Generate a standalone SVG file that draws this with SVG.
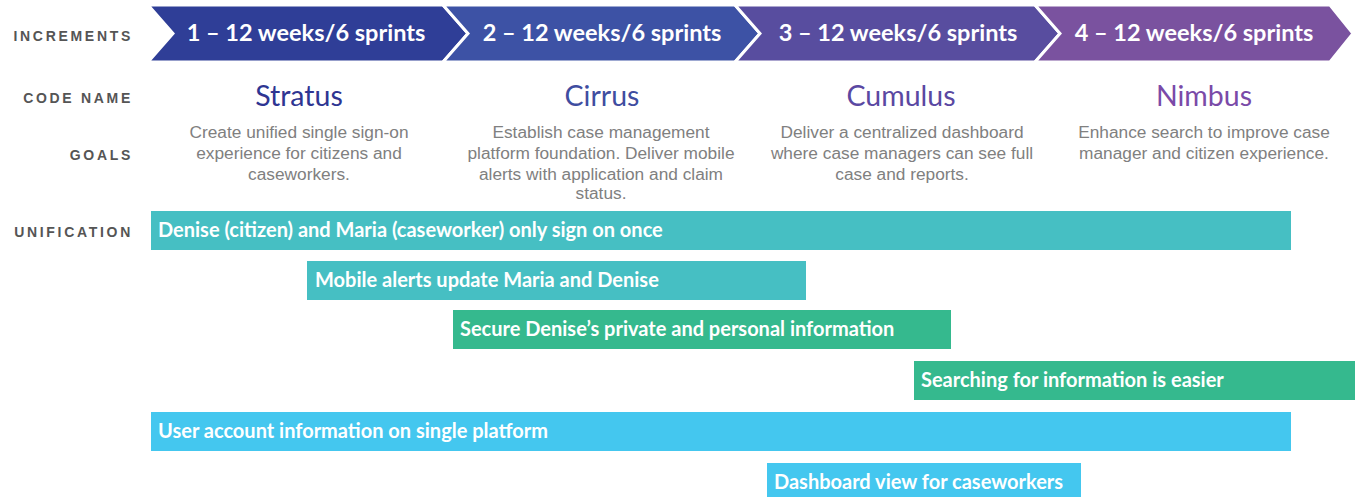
<svg xmlns="http://www.w3.org/2000/svg" width="1355" height="497" viewBox="0 0 1355 497">
<style>
.lbl{font-family:"Liberation Sans",Arial,sans-serif;font-weight:bold;font-size:14px;fill:#555;letter-spacing:2.7px;text-anchor:end}
.chev{stroke:#fff;stroke-width:3;stroke-linejoin:miter}
.ct{font-family:Lato,"Open Sans",sans-serif;font-weight:bold;font-size:23.5px;fill:#fff;text-anchor:middle}
.cn{font-family:Lato,"Open Sans",sans-serif;font-size:28.5px;text-anchor:middle}
.goal{font-family:"Liberation Sans",Arial,sans-serif;font-size:17.3px;fill:#808080;text-anchor:middle}
.bt{font-family:Lato,"Open Sans",sans-serif;font-weight:bold;font-size:20px;fill:#fff}
.teal{fill:#46bfc3}
.green{fill:#35b98e}
.sky{fill:#44c7ef}
</style>
<rect width="1355" height="497" fill="#fff"/>
<g id="row-labels">
<text class="lbl" x="133" y="41">INCREMENTS</text>
<text class="lbl" x="133" y="103">CODE NAME</text>
<text class="lbl" x="133" y="160">GOALS</text>
<text class="lbl" x="133" y="237">UNIFICATION</text>
</g>
<g id="increment-1">
<polygon class="chev" fill="#2f3e97" points="148,5 443,5 468,33.5 443,62 148,62 173,33.5"/>
<text class="ct" x="306" y="41">1 – 12 weeks/6 sprints</text>
</g>
<g id="increment-2">
<polygon class="chev" fill="#3d52a5" points="443,5 735,5 760,33.5 735,62 443,62 468,33.5"/>
<text class="ct" x="602" y="41">2 – 12 weeks/6 sprints</text>
</g>
<g id="increment-3">
<polygon class="chev" fill="#584d9f" points="735,5 1035,5 1060,33.5 1035,62 735,62 760,33.5"/>
<text class="ct" x="898" y="41">3 – 12 weeks/6 sprints</text>
</g>
<g id="increment-4">
<polygon class="chev" fill="#7a529f" points="1035,5 1330,5 1353,33.5 1330,62 1035,62 1060,33.5"/>
<text class="ct" x="1194" y="41">4 – 12 weeks/6 sprints</text>
</g>
<g id="stratus">
<text class="cn" x="299" y="106" fill="#2e3592">Stratus</text>
<text class="goal"><tspan x="299" y="138">Create unified single sign-on</tspan><tspan x="299" y="159">experience for citizens and</tspan><tspan x="299" y="180">caseworkers.</tspan></text>
</g>
<g id="cirrus">
<text class="cn" x="602" y="106" fill="#3f4da0">Cirrus</text>
<text class="goal"><tspan x="601" y="138">Establish case management</tspan><tspan x="601" y="159">platform foundation. Deliver mobile</tspan><tspan x="601" y="180">alerts with application and claim</tspan><tspan x="601" y="199">status.</tspan></text>
</g>
<g id="cumulus">
<text class="cn" x="901" y="106" fill="#5a48a2">Cumulus</text>
<text class="goal"><tspan x="902" y="138">Deliver a centralized dashboard</tspan><tspan x="902" y="159">where case managers can see full</tspan><tspan x="902" y="180">case and reports.</tspan></text>
</g>
<g id="nimbus">
<text class="cn" x="1204" y="106" fill="#7a4aa8">Nimbus</text>
<text class="goal"><tspan x="1204" y="138">Enhance search to improve case</tspan><tspan x="1204" y="159">manager and citizen experience.</tspan></text>
</g>
<g id="bar-sign-on">
<rect class="teal" x="151" y="211" width="1140" height="39"/>
<text class="bt" x="158" y="237">Denise (citizen) and Maria (caseworker) only sign on once</text>
</g>
<g id="bar-mobile-alerts">
<rect class="teal" x="307" y="261" width="499" height="39"/>
<text class="bt" x="315" y="287">Mobile alerts update Maria and Denise</text>
</g>
<g id="bar-secure">
<rect class="green" x="453" y="310" width="498" height="39"/>
<text class="bt" x="460" y="336">Secure Denise’s private and personal information</text>
</g>
<g id="bar-search">
<rect class="green" x="914" y="361" width="441" height="39"/>
<text class="bt" x="921" y="387">Searching for information is easier</text>
</g>
<g id="bar-account">
<rect class="sky" x="151" y="412" width="1140" height="39"/>
<text class="bt" x="158" y="438">User account information on single platform</text>
</g>
<g id="bar-dashboard">
<rect class="sky" x="767" y="463" width="314" height="39"/>
<text class="bt" x="774" y="489">Dashboard view for caseworkers</text>
</g>
<g id="connectors"></g>
</svg>
